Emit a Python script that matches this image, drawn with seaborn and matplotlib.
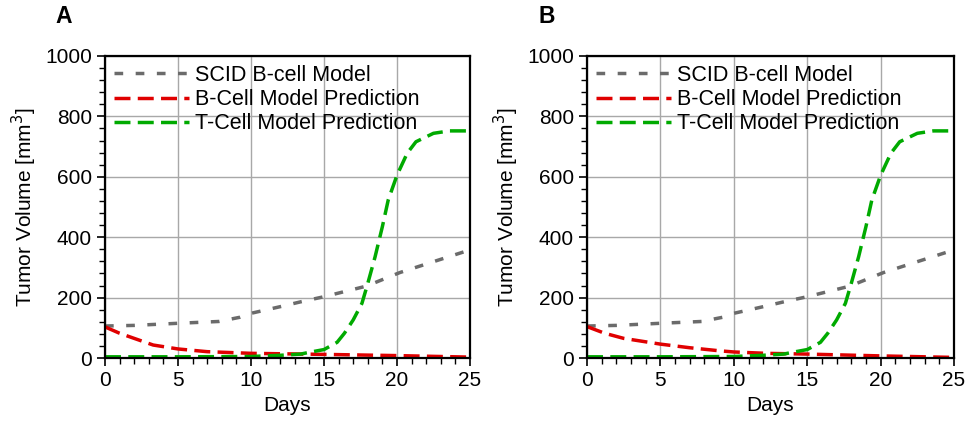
import matplotlib
matplotlib.use("Agg")
import matplotlib.pyplot as plt
from matplotlib.ticker import MultipleLocator
import pandas as pd
import seaborn as sns

# ── Data ──────────────────────────────────────────────────────────────────────
days_scid = [0, 2, 5, 7.8, 9.25, 10, 12, 13.4, 15, 17.9, 20.2, 22.5, 25]
scid      = [106, 108, 115, 121, 135, 148, 170, 186, 203, 238, 283, 319, 358]

days_b_a  = [0, 1, 2, 3.3, 5, 7, 10, 15, 20, 25]
b_cell_a  = [103, 82, 65, 43, 30, 21, 15.5, 12, 8, 3]
days_b_b  = [0, 1.2, 2.5, 5, 7, 9, 10, 12.2, 15, 20, 25]
b_cell_b  = [104, 82, 65, 46, 34, 24, 20, 15.5, 13, 7, 2]

days_t    = [0, 5, 10, 12, 13.4, 14, 15, 15.9, 16.4, 17, 17.6, 18, 18.5,
             19, 19.4, 20, 20.7, 21.3, 22.5, 23.6, 25]
t_cell    = [4, 4, 5, 9, 13, 19, 28, 52, 82, 126, 181, 247, 335,
             435, 523, 605, 678, 716, 744, 752, 752]

LABELS = ["SCID B-cell Model", "B-Cell Model Prediction", "T-Cell Model Prediction"]
COLORS = {LABELS[0]: "#6b6b6b", LABELS[1]: "#e00000", LABELS[2]: "#00aa00"}
DASHES = {LABELS[0]: (2.5, 3.6), LABELS[1]: (4.6, 2.1), LABELS[2]: (4.6, 2.1)}


def build(days_b, b_cell):
    parts = [
        pd.DataFrame({"day": days_scid, "vol": scid, "model": LABELS[0]}),
        pd.DataFrame({"day": days_b, "vol": b_cell, "model": LABELS[1]}),
        pd.DataFrame({"day": days_t, "vol": t_cell, "model": LABELS[2]}),
    ]
    return pd.concat(parts, ignore_index=True)


sns.set_style("ticks")
plt.rcParams.update({
    "font.family": ["Liberation Sans", "DejaVu Sans"],
    "text.color": "black",
    "axes.labelcolor": "black",
})

fig = plt.figure(figsize=(9.66, 4.21), dpi=100)
ax_a = fig.add_axes([0.1087, 0.1496, 0.3778, 0.7174])
ax_b = fig.add_axes([0.6077, 0.1496, 0.3799, 0.7174])

panels = [(ax_a, days_b_a, b_cell_a, "A", 0.057),
          (ax_b, days_b_b, b_cell_b, "B", 0.557)]

for ax, days_b, b_cell, letter, lx in panels:
    df = build(days_b, b_cell)
    sns.lineplot(data=df, x="day", y="vol", hue="model", style="model",
                 palette=COLORS, dashes=DASHES, linewidth=2.5, ax=ax,
                 estimator=None, sort=True)
    ax.set_xlim(0, 25)
    ax.set_ylim(0, 1000)
    ax.xaxis.set_major_locator(MultipleLocator(5))
    ax.xaxis.set_minor_locator(MultipleLocator(1))
    ax.yaxis.set_major_locator(MultipleLocator(200))
    ax.yaxis.set_minor_locator(MultipleLocator(40))
    ax.grid(True, which="major", color="#a8a8a8", linewidth=1.0)
    ax.set_axisbelow(True)
    ax.tick_params(which="major", length=6, width=1.2, labelsize=15, colors="black")
    ax.tick_params(which="minor", length=4, width=1.0, colors="black")
    for sp in ax.spines.values():
        sp.set_linewidth(1.6)
        sp.set_color("black")
    ax.set_xlabel("Days", fontsize=15, color="black")
    ax.set_ylabel("Tumor Volume [mm$^3$]", fontsize=15, color="black")
    ax.legend(loc="upper left", frameon=False, fontsize=15.5,
              handlelength=3.5, handletextpad=0.3, labelspacing=0.16,
              borderaxespad=0.0, borderpad=0.4, bbox_to_anchor=(0.0, 1.0),
              labelcolor="black")
    fig.text(lx, 0.987, letter, fontsize=16.5, fontweight="bold", va="top",
             color="black")

fig.savefig("out.png", dpi=100)
